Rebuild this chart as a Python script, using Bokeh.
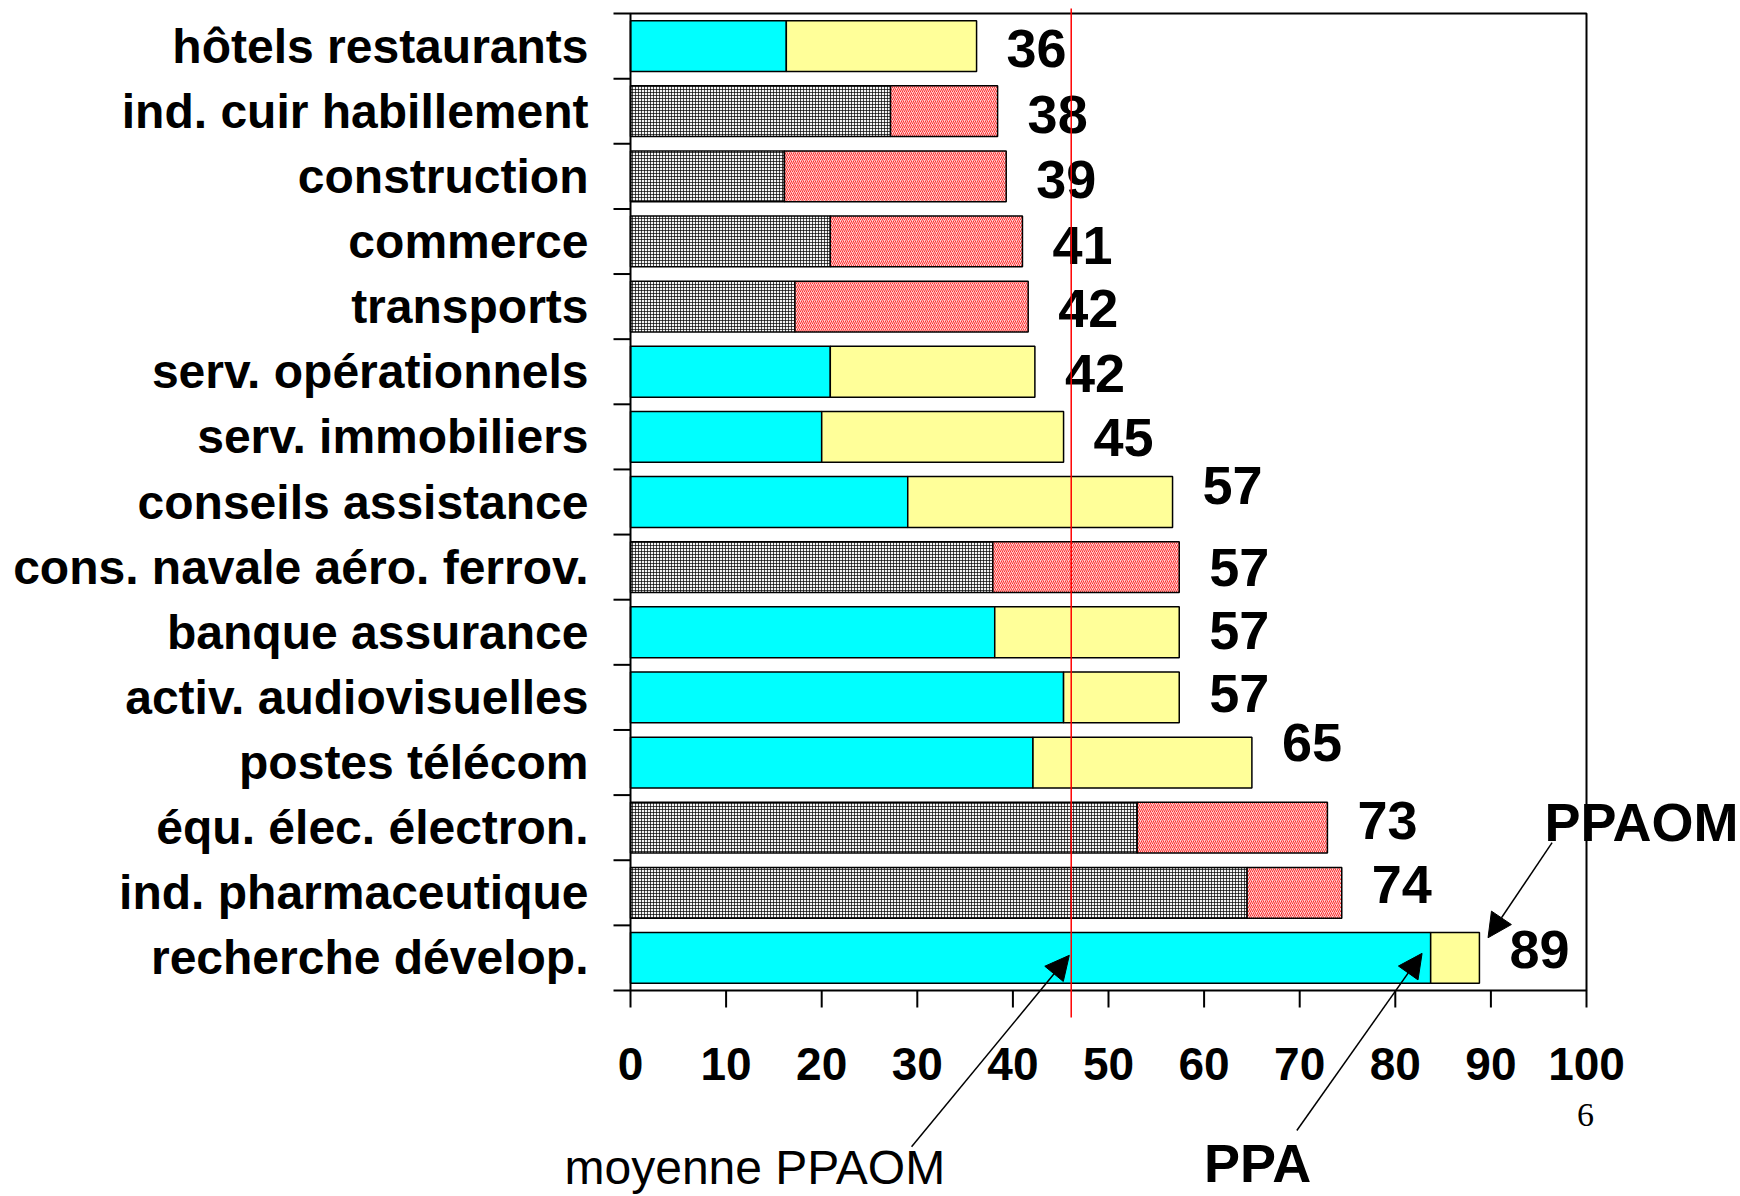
from bokeh.plotting import figure
from bokeh.models import (Range1d, ColumnDataSource, CDSView, GroupFilter,
                          Arrow, NormalHead, Label)
from bokeh.core.properties import value
from bokeh.embed import file_html
from bokeh.resources import INLINE

# ---- data ----
categories = ["hôtels restaurants", "ind. cuir habillement", "construction", "commerce",
              "transports", "serv. opérationnels", "serv. immobiliers", "conseils assistance",
              "cons. navale aéro. ferrov.", "banque assurance", "activ. audiovisuelles",
              "postes télécom", "équ. élec. électron.", "ind. pharmaceutique", "recherche dévelop."]
ppa = [16.3, 27.2, 16.1, 20.9, 17.2, 20.9, 20.0, 29.0, 37.9, 38.1, 45.3, 42.1, 53.0, 64.5, 83.7]
ppaom = [36.2, 38.4, 39.3, 41.0, 41.6, 42.3, 45.3, 56.7, 57.4, 57.4, 57.4, 65.0, 72.9, 74.4, 88.8]
groupe = ["services", "industrie", "industrie", "industrie", "industrie", "services", "services",
          "services", "industrie", "services", "services", "services", "industrie", "industrie",
          "services"]
moyenne_ppaom = 46.1
x_ticks = [0, 10, 20, 30, 40, 50, 60, 70, 80, 90, 100]

# ---- layout (pixels of the page) ----
W, H = 1740, 1196
LEFT, RIGHT, TOP, BOTTOM = 630, 1586, 13, 990
FONT = "Liberation Sans"
n = len(categories)
ux = (RIGHT - LEFT) / 100.0      # px per x unit
uy = (BOTTOM - TOP) / n          # px per category
ypos = list(range(n))
y_top = -0.5
y_bot = n - 0.5
# vertical nudges (px, downwards) of the value labels, as placed in the original
label_nudge_px = [2, 3, 3, 4, 2, 2, 1, -17, 0, -2, -4, -20, -7, -8, -8]

def px_x(d):   # pixel distance -> x data distance
    return d / ux

def px_y(d):   # pixel distance -> y data distance
    return d / uy

src = ColumnDataSource(dict(y=ypos, ppa=ppa, ppaom=ppaom, cat=categories, groupe=groupe,
                            label=[f"{v:.0f}" for v in ppaom],
                            ly=[i + px_y(d) for i, d in zip(ypos, label_nudge_px)]))
v_serv = CDSView(filter=GroupFilter(column_name="groupe", group="services"))
v_ind = CDSView(filter=GroupFilter(column_name="groupe", group="industrie"))

p = figure(width=W, height=H,
           x_range=Range1d(-px_x(LEFT), px_x(W - LEFT)),
           y_range=Range1d(y_top + px_y(H - TOP), y_top - px_y(TOP)),
           output_backend="svg", toolbar_location=None, title=None,
           x_axis_location=None, y_axis_location=None,
           min_border=0)
p.xgrid.visible = False
p.ygrid.visible = False
p.outline_line_color = None
p.background_fill_color = "white"
p.border_fill_color = "white"

# ---- bars ----
BH = 0.78
p.hbar(y="y", left=0, right="ppa", height=BH, source=src, view=v_serv,
       fill_color="#00FFFF", line_color="black", line_width=1.5)
p.hbar(y="y", left="ppa", right="ppaom", height=BH, source=src, view=v_serv,
       fill_color="#FFFF99", line_color="black", line_width=1.5)
p.hbar(y="y", left=0, right="ppa", height=BH, source=src, view=v_ind,
       fill_color="#F4F4F4", hatch_pattern="cross", hatch_color="black", hatch_scale=3,
       hatch_weight=0.7, line_color="black", line_width=1.5)
p.hbar(y="y", left="ppa", right="ppaom", height=BH, source=src, view=v_ind,
       fill_color="#FFD0D0", hatch_pattern="right_diagonal_line", hatch_color="#FF3030",
       hatch_scale=4, hatch_weight=1, line_color="black", line_width=1.5)

# ---- plot box and axes ----
p.quad(left=[0], right=[100], top=[y_top], bottom=[y_bot], fill_color=None,
       line_color="black", line_width=2)
# y axis: ticks on category boundaries, labels at centres
bounds = [i - 0.5 for i in range(n + 1)]
p.segment(x0=[-px_x(17)] * len(bounds), x1=[0] * len(bounds), y0=bounds, y1=bounds,
          line_color="black", line_width=2)
p.text(x=[-px_x(17 + 25)] * n, y=ypos, text=categories, text_font=value(FONT),
       text_font_style="bold", text_font_size="48px", text_align="right",
       text_baseline="middle", text_color="black")
# x axis
p.segment(x0=x_ticks, x1=x_ticks, y0=[y_bot] * len(x_ticks),
          y1=[y_bot + px_y(17)] * len(x_ticks), line_color="black", line_width=2)
p.text(x=x_ticks, y=[y_bot + px_y(73)] * len(x_ticks), text=[str(t) for t in x_ticks],
       text_font=value(FONT), text_font_style="bold", text_font_size="46px",
       text_align="center", text_baseline="middle", text_color="black")

# ---- value labels ----
p.text(x="ppaom", y="ly", text="label", source=src, x_offset=30,
       text_font=value(FONT), text_font_style="bold", text_font_size="54px",
       text_baseline="middle", text_align="left", text_color="black")

# ---- average line ----
p.segment(x0=[moyenne_ppaom], x1=[moyenne_ppaom], y0=[y_top - px_y(5)],
          y1=[y_bot + px_y(27)], line_color="red", line_width=1.5)

# ---- annotations ----
head = dict(size=24, fill_color="black", line_color="black")
p.add_layout(Arrow(end=NormalHead(**head), x_start=96.4, y_start=12.23,
                   x_end=ppaom[-1] + 0.9, y_end=n - 1 - 0.31, line_width=1.5))
p.add_layout(Arrow(end=NormalHead(**head), x_start=69.7, y_start=16.65,
                   x_end=ppa[-1] - 0.9, y_end=n - 1 - 0.07, line_width=1.5))
p.add_layout(Arrow(end=NormalHead(**head), x_start=29.4, y_start=16.9,
                   x_end=moyenne_ppaom - 0.2, y_end=n - 1 - 0.04, line_width=1.5))

p.add_layout(Label(x=95.6, y=11.91, text="PPAOM", text_font=FONT, text_font_style="bold",
                   text_font_size="54px", text_baseline="alphabetic", text_color="black"))
p.add_layout(Label(x=60.0, y=17.15, text="PPA", text_font=FONT, text_font_style="bold",
                   text_font_size="54px", text_baseline="alphabetic", text_color="black"))
p.add_layout(Label(x=-6.9, y=17.22, text="moyenne PPAOM", text_font=FONT,
                   text_font_size="48px", text_baseline="alphabetic", text_color="black"))
p.add_layout(Label(x=99.0, y=16.41, text="6", text_font="Liberation Serif",
                   text_font_size="34px", text_baseline="alphabetic", text_color="black"))

open("out.html", "w").write(file_html(p, INLINE))
